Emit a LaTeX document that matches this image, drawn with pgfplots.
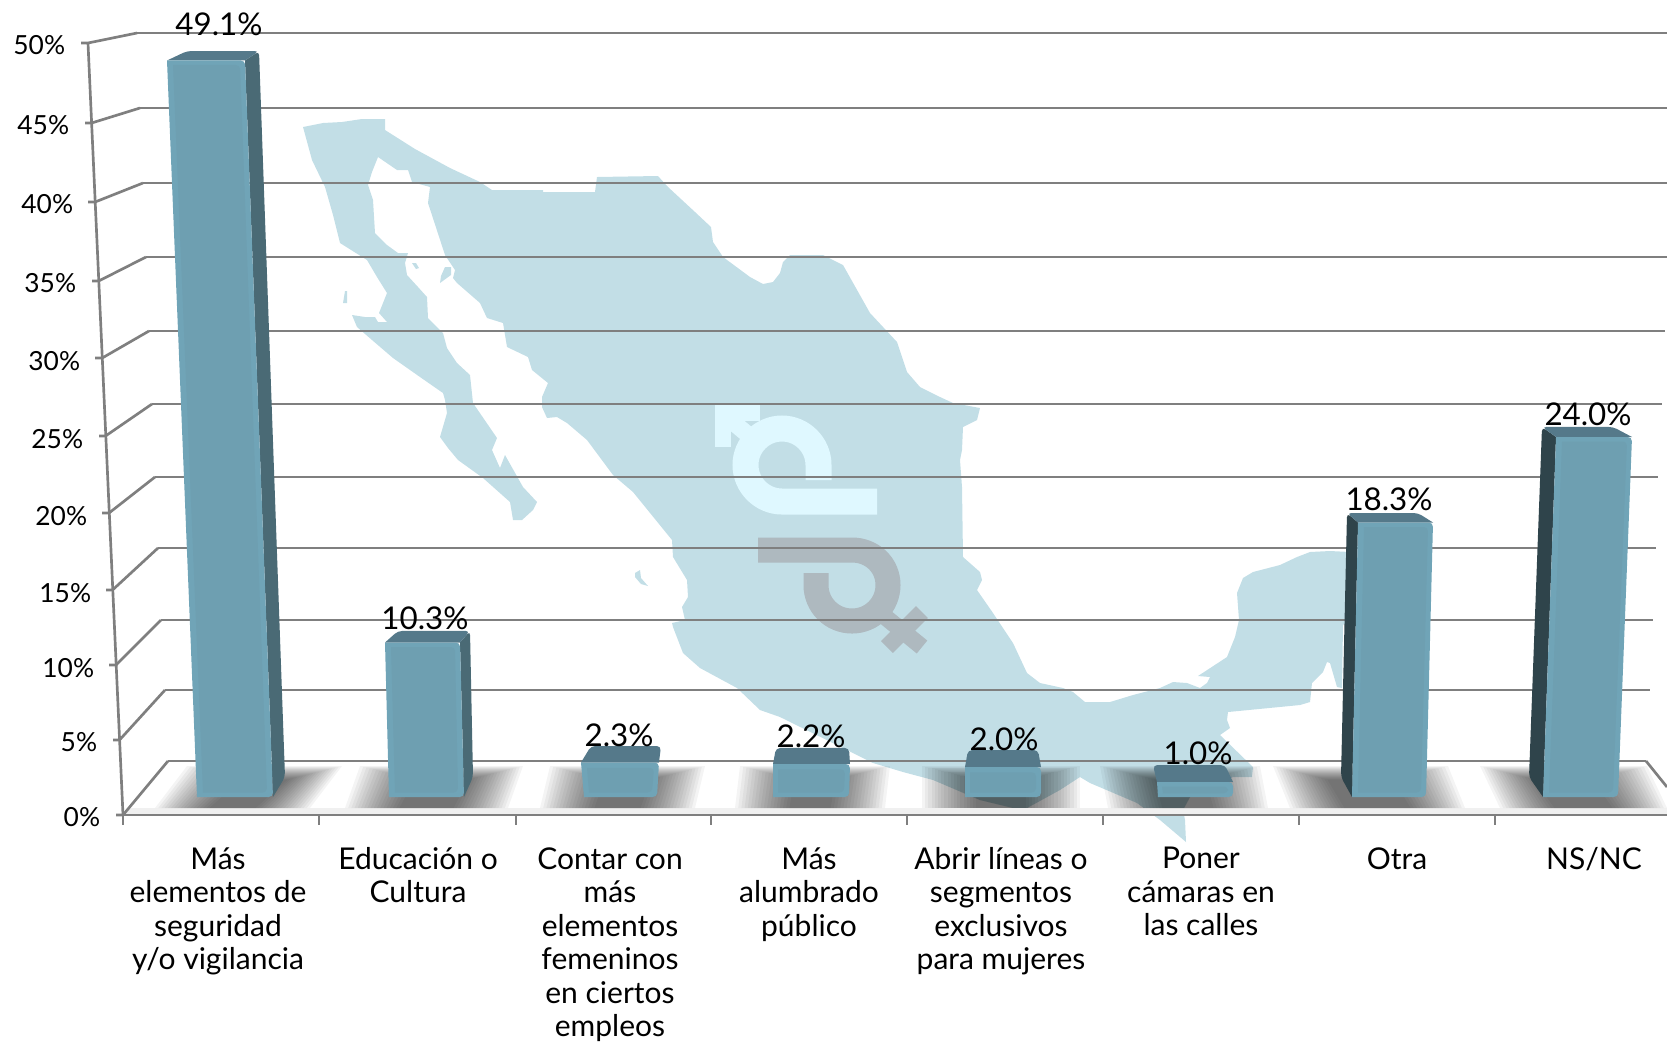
\documentclass[border=0pt]{standalone}
\usepackage{fontspec}
\setmainfont{Lato}
\usepackage{pgfplots}
\pgfplotsset{compat=1.18}

\definecolor{mapblue}{HTML}{C2DEE6}
\definecolor{logolight}{HTML}{DFF8FF}
\definecolor{logogray}{HTML}{AEB9BF}
\definecolor{gridgray}{HTML}{7F7F7F}
\definecolor{barfront}{HTML}{6E9FB1}
\definecolor{baredge}{HTML}{70A4B7}
\definecolor{bartop}{HTML}{55798A}
\definecolor{barright}{HTML}{4A6A75}
\definecolor{barleft}{HTML}{2F444B}

% px = one pixel of the 1667x1041 reference
\pgfplotsset{
    sheet/.style={
        hide axis, scale only axis, width=1000.2pt, height=624.6pt,
        xmin=0, xmax=1667,
    },
    grid line/.style={draw=gridgray, line width=1.6pt, no markers},
    face/.style={fill=#1, draw=none, no markers, rounded corners=2.5pt},
}

% soft shadow on the floor: left, right (at the front), skew of the back edge
\newcommand\floorshadow[3]{
    \pgfplotsinvokeforeach{0,...,17}{
        \fill[black, opacity=0.045]
            (axis cs:#1+##1*3.2,808) -- (axis cs:#2-##1*3.2,808)
            -- (axis cs:#2-##1*3.2+#3,766+##1*0.8) -- (axis cs:#1+##1*3.2+#3,766+##1*0.8) -- cycle;
    }
}

\begin{document}
\begin{tikzpicture}
% ---- back layer: map, logo, walls, in reference pixels
\begin{axis}[sheet, ymin=0, ymax=1041, y dir=reverse]
    % hidden axis: keep the whole sheet in the page
    \path (axis cs:0,0) rectangle (axis cs:1667,1041);

    % map of Mexico
    \addplot[fill=mapblue, draw=none, no markers] coordinates {
        (303,127) (323,123) (342,122) (362,119) (385,119) (385,130) (415,149) (450,168) (480,182) (492,190)
        (543,190) (543,192) (595,192) (597,177) (658,176) (668,187) (695,212) (711,227) (713,242) (723,257)
        (750,277) (763,284) (773,282) (780,273) (783,262) (790,255) (823,255) (843,265) (870,313) (897,342)
        (907,372) (920,387) (940,397) (953,403) (980,408) (977,420) (963,427) (962,450) (960,460) (962,487)
        (963,557) (980,572) (982,580) (977,590) (993,613) (1013,643) (1027,673) (1040,683) (1063,688) (1073,692)
        (1085,702) (1110,702) (1133,695) (1160,688) (1173,682) (1187,683) (1200,688) (1207,683) (1210,677) (1198,676)
        (1227,657) (1235,637) (1239,620) (1237,593) (1243,578) (1253,572) (1280,565) (1297,557) (1310,552) (1330,551)
        (1350,552) (1350,620) (1343,625) (1342,688) (1337,687) (1330,663) (1327,662) (1323,672) (1312,683) (1310,702)
        (1300,705) (1228,712) (1227,720) (1230,728) (1220,735) (1253,767) (1252,777) (1233,777) (1190,797) (1183,810)
        (1185,820) (1186,842) (1160,820) (1137,803) (1090,783) (1080,777) (1060,790) (1027,808) (1013,808) (980,800)
        (933,780) (903,772) (873,763) (853,753) (780,717) (760,710) (737,688) (700,668) (683,653) (673,627)
        (672,623) (685,620) (682,607) (688,597) (687,580) (673,557) (672,540) (633,492) (613,475) (587,440)
        (567,423) (557,417) (547,418) (542,407) (542,397) (548,383) (532,370) (528,357) (507,347) (503,323)
        (487,318) (480,303) (457,283) (453,278) (455,270) (445,255) (428,203) (430,187) (412,182) (408,170)
        (397,170) (378,157) (372,172) (368,185) (373,200) (375,233) (387,245) (398,253) (408,253) (405,263)
        (407,275) (418,287) (427,297) (428,318) (443,333) (447,348) (457,363) (470,375) (473,403) (497,438)
        (492,450) (500,468) (505,455) (523,487) (537,502) (533,510) (522,520) (513,520) (510,502) (483,478)
        (458,460) (448,448) (440,437) (447,413) (445,400) (443,393) (420,377) (393,358) (372,340) (357,327)
        (352,315) (365,317) (375,317) (378,322) (387,322) (379,313) (387,293) (377,277) (367,260) (340,243)
        (333,215) (325,187) (312,160)
    };
    % islands
    \addplot[fill=mapblue, draw=none, no markers] coordinates {(345,291) (347,291) (347,303) (343,303)};
    \addplot[fill=mapblue, draw=none, no markers] coordinates {(412,263) (416,263) (419,268) (416,269)};
    \addplot[fill=mapblue, draw=none, no markers] coordinates {(445,267) (451,267) (451,275) (440,283) (441,276)};
    \addplot[fill=mapblue, draw=none, no markers] coordinates {(635,573) (640,570) (641,578) (648,586) (641,584) (635,577)};

    % logo marks
    \draw[logolight, line width=15.6pt]
        (axis cs:818.5,480) -- (axis cs:818.5,465)
        .. controls (axis cs:818.5,445) and (axis cs:802,428.5) .. (axis cs:782,428.5)
        .. controls (axis cs:762,428.5) and (axis cs:745.5,445) .. (axis cs:745.5,465)
        .. controls (axis cs:745.5,485) and (axis cs:762,501.5) .. (axis cs:782,501.5)
        -- (axis cs:877,501.5);
    \draw[logolight, line width=10pt] (axis cs:723,447) -- (axis cs:723,413) -- (axis cs:760,413);
    \draw[logolight, line width=10pt] (axis cs:728,418) -- (axis cs:758,443);
    \draw[logogray, line width=15pt]
        (axis cs:758,550) -- (axis cs:852,550)
        .. controls (axis cs:872,550) and (axis cs:888,565) .. (axis cs:888,585)
        .. controls (axis cs:888,605) and (axis cs:872,621) .. (axis cs:852,621)
        .. controls (axis cs:832,621) and (axis cs:816,605) .. (axis cs:816,585)
        -- (axis cs:816,573);
    \draw[logogray, line width=10pt] (axis cs:878,611) -- (axis cs:922,647);
    \draw[logogray, line width=10pt] (axis cs:887,647) -- (axis cs:922,612);

    % floor edge
    \addplot[fill=black!6, draw=none, no markers] coordinates {(123,815) (1667,815) (1667,808) (130,808)};

    % shadows under the columns
    \floorshadow{155}{310}{32}
    \floorshadow{345}{508}{15}
    \floorshadow{540}{695}{10}
    \floorshadow{735}{885}{5}
    \floorshadow{922}{1080}{0}
    \floorshadow{1108}{1268}{-8}
    \floorshadow{1290}{1465}{-17}
    \floorshadow{1500}{1667}{-20}

    % back wall
    \addplot[grid line] coordinates {(137,33) (1667,33)};
    \addplot[grid line] coordinates {(140,108) (1667,108)};
    \addplot[grid line] coordinates {(143,183) (1667,183)};
    \addplot[grid line] coordinates {(146,257) (1667,257)};
    \addplot[grid line] coordinates {(149,331) (1665,331)};
    \addplot[grid line] coordinates {(152,404) (1662,404)};
    \addplot[grid line] coordinates {(155,477) (1658,477)};
    \addplot[grid line] coordinates {(158,548) (1656,548)};
    \addplot[grid line] coordinates {(161,620) (1653,620)};
    \addplot[grid line] coordinates {(165,690) (1650,690)};
    \addplot[grid line] coordinates {(168,761) (1646,761)};

    % side wall, ticks included
    \addplot[grid line] coordinates {(81,43) (88,43) (137,33)};
    \addplot[grid line] coordinates {(85,123) (91.6,123) (140,108)};
    \addplot[grid line] coordinates {(88,202) (95.1,202) (143,183)};
    \addplot[grid line] coordinates {(92,281) (98.7,281) (146,257)};
    \addplot[grid line] coordinates {(95,358) (102.2,358) (149,331)};
    \addplot[grid line] coordinates {(99,436) (105.5,436) (152,404)};
    \addplot[grid line] coordinates {(102,513) (109,513) (155,477)};
    \addplot[grid line] coordinates {(106,590) (112.5,590) (158,548)};
    \addplot[grid line] coordinates {(109,665) (116,665) (161,620)};
    \addplot[grid line] coordinates {(113,740) (119.5,740) (165,690)};
    \addplot[grid line] coordinates {(116,815) (123,815) (168,761)};
    \addplot[grid line] coordinates {(88,43) (123,815)};
    \addplot[grid line] coordinates {(1646,761) (1667,787)};

    % front edge of the floor and its ticks
    \addplot[grid line] coordinates {(123,815) (1667,815)};
    \addplot[grid line] coordinates {(123,815) (123,825)};
    \addplot[grid line] coordinates {(319,815) (319,825)};
    \addplot[grid line] coordinates {(516,815) (516,825)};
    \addplot[grid line] coordinates {(711,815) (711,825)};
    \addplot[grid line] coordinates {(907,815) (907,825)};
    \addplot[grid line] coordinates {(1103,815) (1103,825)};
    \addplot[grid line] coordinates {(1299,815) (1299,825)};
    \addplot[grid line] coordinates {(1495,815) (1495,825)};

    % y tick labels
    \begin{scope}[font=\fontsize{15.8}{18}\selectfont]
    \node[anchor=east] at (axis cs:71,45) {50\%};
    \node[anchor=east] at (axis cs:75,125) {45\%};
    \node[anchor=east] at (axis cs:79,204) {40\%};
    \node[anchor=east] at (axis cs:82,283) {35\%};
    \node[anchor=east] at (axis cs:86,361) {30\%};
    \node[anchor=east] at (axis cs:89,439) {25\%};
    \node[anchor=east] at (axis cs:93,516) {20\%};
    \node[anchor=east] at (axis cs:97,593) {15\%};
    \node[anchor=east] at (axis cs:100,668) {10\%};
    \node[anchor=east] at (axis cs:103,742) {5\%};
    \node[anchor=east] at (axis cs:106,817) {0\%};
    \end{scope}

    % category labels
    \begin{scope}[font=\fontsize{18}{20.1}\selectfont, align=center, anchor=north, inner sep=0pt]
    \node at (axis cs:218,847) {Más\\elementos de\\seguridad\\y/o vigilancia};
    \node at (axis cs:418,847) {Educación o\\Cultura};
    \node at (axis cs:610,847) {Contar con\\más\\elementos\\femeninos\\en ciertos\\empleos};
    \node at (axis cs:809,847) {Más\\alumbrado\\público};
    \node at (axis cs:1001,847) {Abrir líneas o\\segmentos\\exclusivos\\para mujeres};
    \node at (axis cs:1201,847) {Poner\\cámaras en\\las calles};
    \node at (axis cs:1397,847) {Otra};
    \node at (axis cs:1594,847) {NS/NC};
    \end{scope}
\end{axis}

% ---- columns: x in reference pixels, y in percent
\begin{axis}[sheet, ymin=-16.2667, ymax=53.1333]

    % Más elementos de seguridad y/o vigilancia
    \addplot[face=barright] coordinates {(245,49.1) (259,49.73) (285,1.33) (273,0)};
    \addplot[face=bartop] coordinates {(167,49.1) (187,49.73) (259,49.73) (245,49.1)};
    \addplot[face=baredge] coordinates {(167,49.1) (245,49.1) (273,0) (197,0)};
    \addplot[face=barfront] coordinates {(173,48.8) (240,48.8) (267,0.3) (203,0.3)};

    % Educación o Cultura
    \addplot[face=barright] coordinates {(460,10.3) (470,11.07) (473,1.33) (464,0)};
    \addplot[face=bartop] coordinates {(385,10.3) (398,11.07) (470,11.07) (460,10.3)};
    \addplot[face=baredge] coordinates {(385,10.3) (460,10.3) (464,0) (389,0)};
    \addplot[face=barfront] coordinates {(391,10) (455,10) (458,0.3) (395,0.3)};

    % Contar con más elementos femeninos
    \addplot[face=bartop] coordinates {(581,2.3) (591,3.4) (661,3.4) (659,2.3)};
    \addplot[face=baredge] coordinates {(581,2.3) (659,2.3) (657,0) (584,0)};
    \addplot[face=barfront] coordinates {(587,1.95) (654,1.95) (652,0.3) (589,0.3)};

    % Más alumbrado público
    \addplot[face=bartop] coordinates {(773,2.2) (776,3.27) (849,3.27) (850,2.2)};
    \addplot[face=baredge] coordinates {(773,2.2) (850,2.2) (849,0) (773,0)};
    \addplot[face=barfront] coordinates {(778,1.85) (845,1.85) (844,0.3) (778,0.3)};

    % Abrir líneas o segmentos exclusivos
    \addplot[face=bartop] coordinates {(965,2) (968,3.13) (1038,3.13) (1041,2)};
    \addplot[face=baredge] coordinates {(965,2) (1041,2) (1041,0) (965,0)};
    \addplot[face=barfront] coordinates {(970,1.65) (1036,1.65) (1036,0.3) (970,0.3)};

    % Poner cámaras en las calles
    \addplot[face=bartop] coordinates {(1157,1) (1153,2.13) (1225,2.13) (1233,1)};
    \addplot[face=baredge] coordinates {(1157,1) (1233,1) (1233,0) (1158,0)};
    \addplot[face=barfront] coordinates {(1162,0.7) (1228,0.7) (1228,0.25) (1163,0.25)};

    % Otra
    \addplot[face=barleft] coordinates {(1358,18.3) (1347,18.93) (1341,1.33) (1352,0)};
    \addplot[face=bartop] coordinates {(1358,18.3) (1347,18.93) (1418,18.93) (1433,18.3)};
    \addplot[face=baredge] coordinates {(1358,18.3) (1433,18.3) (1426,0) (1352,0)};
    \addplot[face=barfront] coordinates {(1364,18) (1428,18) (1421,0.3) (1358,0.3)};

    % NS/NC
    \addplot[face=barleft] coordinates {(1556,24) (1542,24.67) (1529,1.33) (1543,0)};
    \addplot[face=bartop] coordinates {(1556,24) (1542,24.67) (1613,24.67) (1632,24)};
    \addplot[face=baredge] coordinates {(1556,24) (1632,24) (1618,0) (1543,0)};
    \addplot[face=barfront] coordinates {(1562,23.7) (1627,23.7) (1613,0.3) (1549,0.3)};

    % value labels
    \begin{scope}[font=\fontsize{18.8}{21}\selectfont, inner sep=0pt]
    \node at (axis cs:219,51.53) {49.1\%};
    \node at (axis cs:425,11.93) {10.3\%};
    \node at (axis cs:619,4.13) {2.3\%};
    \node at (axis cs:811,4.07) {2.2\%};
    \node at (axis cs:1004,3.87) {2.0\%};
    \node at (axis cs:1198,2.93) {1.0\%};
    \node at (axis cs:1389,19.87) {18.3\%};
    \node at (axis cs:1588,25.53) {24.0\%};
    \end{scope}
\end{axis}
\end{tikzpicture}
\end{document}
